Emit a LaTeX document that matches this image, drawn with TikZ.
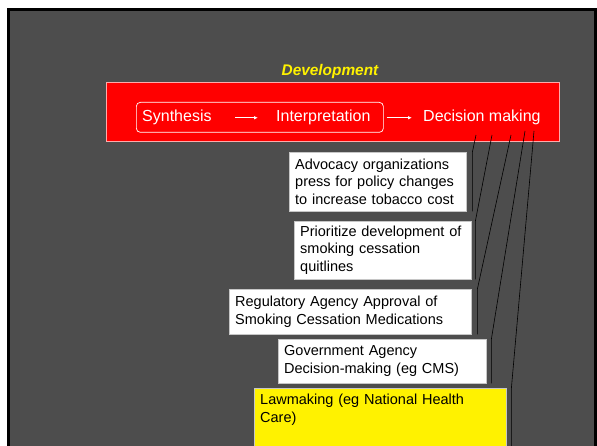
\documentclass[tikz,border=0pt]{standalone}
\usepackage{fontspec}
\setmainfont{Liberation Sans}
\usetikzlibrary{arrows.meta}

\definecolor{slidegray}{RGB}{77,77,77}
\definecolor{barred}{RGB}{255,0,0}
\definecolor{barrim}{RGB}{255,170,170}

\tikzset{
    callout/.style={draw=gray!45, fill=white, text=black, anchor=north west, align=left,
        inner xsep=6pt, inner ysep=0pt, font=\fontsize{14.5}{17.6}\selectfont},
    steptext/.style={text=white, anchor=base west, inner sep=0pt,
        text height=12pt, text depth=3.5pt, font=\fontsize{16}{19}\selectfont},
    flow/.style={draw=white, line width=0.8pt, -{Latex[length=4pt,width=3.5pt]}},
    leader/.style={draw=black, line width=0.6pt}
}

\begin{document}
\begin{tikzpicture}[x=1pt, y=-1pt]

    \useasboundingbox (0,0) rectangle (597,446);

    % slide background with its dark frame
    \fill[black] (7,8) rectangle (597,446);
    \fill[slidegray] (10,11) rectangle (594,446);

            % the red development bar
            \node[fill=barred, draw=barrim, line width=0.6pt, anchor=north west,
                minimum width=453pt, minimum height=59pt] (devbar) at (106,82) {};
            \node[text=yellow, anchor=base, inner sep=0pt,
                font=\bfseries\itshape\fontsize{15.4}{18}\selectfont] (title) at (330,76) {Development};

            \node[draw=white, line width=0.7pt, rounded corners=4pt, anchor=north west,
                minimum width=247pt, minimum height=30pt] (grp) at (136,102) {};

            \node[steptext] (syn) at (142,122) {Synthesis};
            \node[steptext] (int) at (276,122) {Interpretation};
            \node[steptext] (dec) at (423,122) {Decision making};

    % the two steps of the bar
    \draw[flow, shorten <=23pt, shorten >=18pt] (syn.east) -- (int.west);
    \draw[flow, shorten <=16pt, shorten >=11pt] (int.east) -- (dec.west);

            % the decisions that follow
            \node[callout, text width=165pt, minimum height=59pt] (adv) at (289,152)
                {Advocacy organizations\\press for policy changes\\to increase tobacco cost};
            \node[callout, text width=165pt, minimum height=58pt] (pri) at (294,221)
                {Prioritize development of\\smoking cessation\\quitlines};
            \node[callout, text width=230pt, minimum height=45pt] (reg) at (229,289)
                {Regulatory Agency Approval of\\Smoking Cessation Medications};
            \node[callout, text width=196pt, minimum height=44pt] (gov) at (278,339)
                {Government Agency\\Decision-making (eg CMS)};
            \node[callout, fill=yellow, text width=240pt, inner ysep=6pt, text depth=60pt] (law) at (254,388)
                {Lawmaking (eg National Health\\Care)};

            \coordinate (d1) at (476,135);
            \coordinate (d2) at (492,135);
            \coordinate (d3) at (511,135);
            \coordinate (d4) at (525,131);
            \coordinate (d5) at (534,131);

    % leader lines from the decision step to the bars beside each box
    \draw[leader] (d1) -- ([xshift=6pt]adv.north east) -- ([xshift=6pt]adv.south east);
    \draw[leader] (d2) -- ([xshift=4pt]pri.north east) -- ([xshift=4pt]pri.south east);
    \draw[leader] (d3) -- ([xshift=6pt]reg.north east) -- ([xshift=6pt]reg.south east);
    \draw[leader] (d4) -- ([xshift=5pt]gov.north east) -- ([xshift=5pt]gov.south east);
    \draw[leader] (d5) -- ([xshift=5pt]law.north east) -- ([xshift=5pt]law.south east);

\end{tikzpicture}
\end{document}
